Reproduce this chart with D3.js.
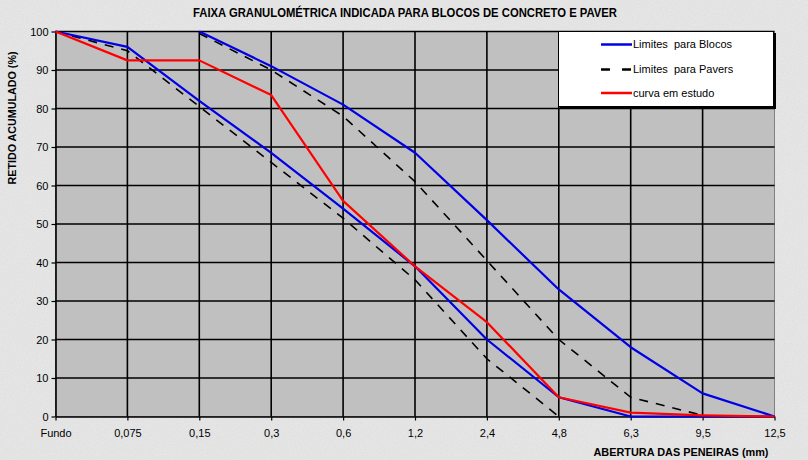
<!DOCTYPE html>
<html><head><meta charset="utf-8">
<script src="https://cdn.jsdelivr.net/npm/d3@7/dist/d3.min.js"></script>
<style>body{margin:0;padding:0;overflow:hidden;background:#e4e4e4}svg{display:block}</style>
</head><body>
<svg id="c" width="808" height="460"></svg>
<script>
const categories = ["Fundo","0,075","0,15","0,3","0,6","1,2","2,4","4,8","6,3","9,5","12,5"];
const yTicks = [0,10,20,30,40,50,60,70,80,90,100];
const blocosSup = [null,null,100,91,81,68.5,51,33,18,6,0];
const blocosInf = [100,96,82,68.5,54,39,20,5,0,0,0];
const paversSup = [null,null,99.5,90,78,61,40.5,20,5,0.3,null];
const paversInf = [100,95,80.5,66,51.5,35.5,15,0,null,null,null];
const curva = [100,92.5,92.5,83.5,56,39,24.5,5,1,0.3,0];
const titleText = "FAIXA GRANULOMÉTRICA INDICADA PARA BLOCOS DE CONCRETO E PAVER";
const yTitle = "RETIDO ACUMULADO (%)";
const xTitle = "ABERTURA DAS PENEIRAS (mm)";
const legendItems = [
  {label:"Limites  para Blocos", color:"#0000e6", dash:null, w:2.5},
  {label:"Limites  para Pavers", color:"#000000", dash:"9,12", w:2.5},
  {label:"curva em estudo", color:"#ff0000", dash:null, w:2.5}
];

const svg = d3.select("#c");
const defs = svg.append("defs");
const f = defs.append("filter").attr("id","noise").attr("x",0).attr("y",0).attr("width","100%").attr("height","100%");
f.append("feTurbulence").attr("type","fractalNoise").attr("baseFrequency","0.9").attr("numOctaves","2").attr("seed","3").attr("result","t");
f.append("feColorMatrix").attr("type","matrix").attr("values","0 0 0 0 0.5  0 0 0 0 0.5  0 0 0 0 0.5  0.9 0 0 0 -0.3").attr("in","t");

svg.append("rect").attr("width",808).attr("height",460).attr("fill","#e6e6e6");
svg.append("rect").attr("width",808).attr("height",460).attr("filter","url(#noise)").attr("opacity",0.35);

const L=55.5, R=774.5, T=31.5, B=416.5;
const x = d3.scalePoint().domain(categories).range([L,R]).padding(0);
const y = d3.scaleLinear().domain([0,100]).range([B,T]);

svg.append("rect").attr("x",L).attr("y",T).attr("width",R-L).attr("height",B-T).attr("fill","#c0c0c0").attr("stroke","#808080").attr("stroke-width",1);

const g = svg.append("g");
g.selectAll(".hg").data(yTicks.filter(d=>d>0)).join("line")
  .attr("x1",L).attr("x2",R).attr("y1",d=>y(d)).attr("y2",d=>y(d))
  .attr("stroke","#000").attr("stroke-width",1.6);
g.selectAll(".vg").data(categories.slice(1,10)).join("line")
  .attr("x1",d=>x(d)).attr("x2",d=>x(d)).attr("y1",T).attr("y2",B)
  .attr("stroke","#000").attr("stroke-width",1.6);

const yAxis = svg.append("g").attr("transform",`translate(${L},0)`)
  .call(d3.axisLeft(y).tickValues(yTicks).tickSize(4).tickPadding(3).tickSizeOuter(0));
const xAxis = svg.append("g").attr("transform",`translate(0,${B})`)
  .call(d3.axisBottom(x).tickSize(4).tickPadding(9).tickSizeOuter(0));
[yAxis,xAxis].forEach(a=>{
  a.select(".domain").attr("stroke","#000").attr("stroke-width",1.6);
  a.selectAll(".tick line").attr("stroke","#000").attr("stroke-width",1.2);
  a.selectAll(".tick text").attr("fill","#000").style("font-family","Liberation Sans, Arial, sans-serif").style("font-size","11px");
});

function series(vals){ return categories.map((c,i)=>({c, v:vals[i]})); }
const line = d3.line().defined(d=>d.v!=null).x(d=>x(d.c)).y(d=>y(d.v));
const lines = [
  {vals:paversSup, color:"#000", dash:"9,8", w:1.6},
  {vals:paversInf, color:"#000", dash:"9,8", w:1.6},
  {vals:blocosSup, color:"#0000e6", dash:null, w:2.2},
  {vals:blocosInf, color:"#0000e6", dash:null, w:2.2},
  {vals:curva, color:"#ff0000", dash:null, w:2.2}
];
svg.append("g").selectAll("path").data(lines).join("path")
  .attr("d",d=>line(series(d.vals))).attr("fill","none")
  .attr("stroke",d=>d.color).attr("stroke-width",d=>d.w)
  .attr("stroke-dasharray",d=>d.dash).attr("stroke-linejoin","round");

// legend
const lg = svg.append("g");
lg.append("rect").attr("x",560).attr("y",33).attr("width",216).attr("height",76).attr("fill","#000");
lg.append("rect").attr("x",558.5).attr("y",31.5).attr("width",215).attr("height",75).attr("fill","#fff").attr("stroke","#000").attr("stroke-width",1);
const rows=[44.5,69.5,93];
legendItems.forEach((it,i)=>{
  lg.append("line").attr("x1",601).attr("x2",632).attr("y1",rows[i]).attr("y2",rows[i])
    .attr("stroke",it.color).attr("stroke-width",it.w).attr("stroke-dasharray",it.dash);
  lg.append("text").attr("x",633).attr("y",rows[i]).attr("dy","0.35em")
    .style("font-family","Liberation Sans, Arial, sans-serif").style("font-size","11px").style("white-space","pre")
    .attr("xml:space","preserve").text(it.label);
});

// titles
svg.append("text").attr("x",405).attr("y",17).attr("text-anchor","middle")
  .style("font-family","Liberation Sans, Arial, sans-serif").style("font-size","12px").style("font-weight","bold")
  .attr("textLength",424).attr("lengthAdjust","spacingAndGlyphs").text(titleText);
svg.append("text").attr("transform","translate(16,118) rotate(-90)").attr("text-anchor","middle")
  .style("font-family","Liberation Sans, Arial, sans-serif").style("font-size","11px").style("font-weight","bold")
  .attr("textLength",133).attr("lengthAdjust","spacingAndGlyphs").text(yTitle);
svg.append("text").attr("x",681).attr("y",456).attr("text-anchor","middle")
  .style("font-family","Liberation Sans, Arial, sans-serif").style("font-size","11px").style("font-weight","bold")
  .attr("textLength",175).attr("lengthAdjust","spacingAndGlyphs").text(xTitle);
</script>
</body></html>
